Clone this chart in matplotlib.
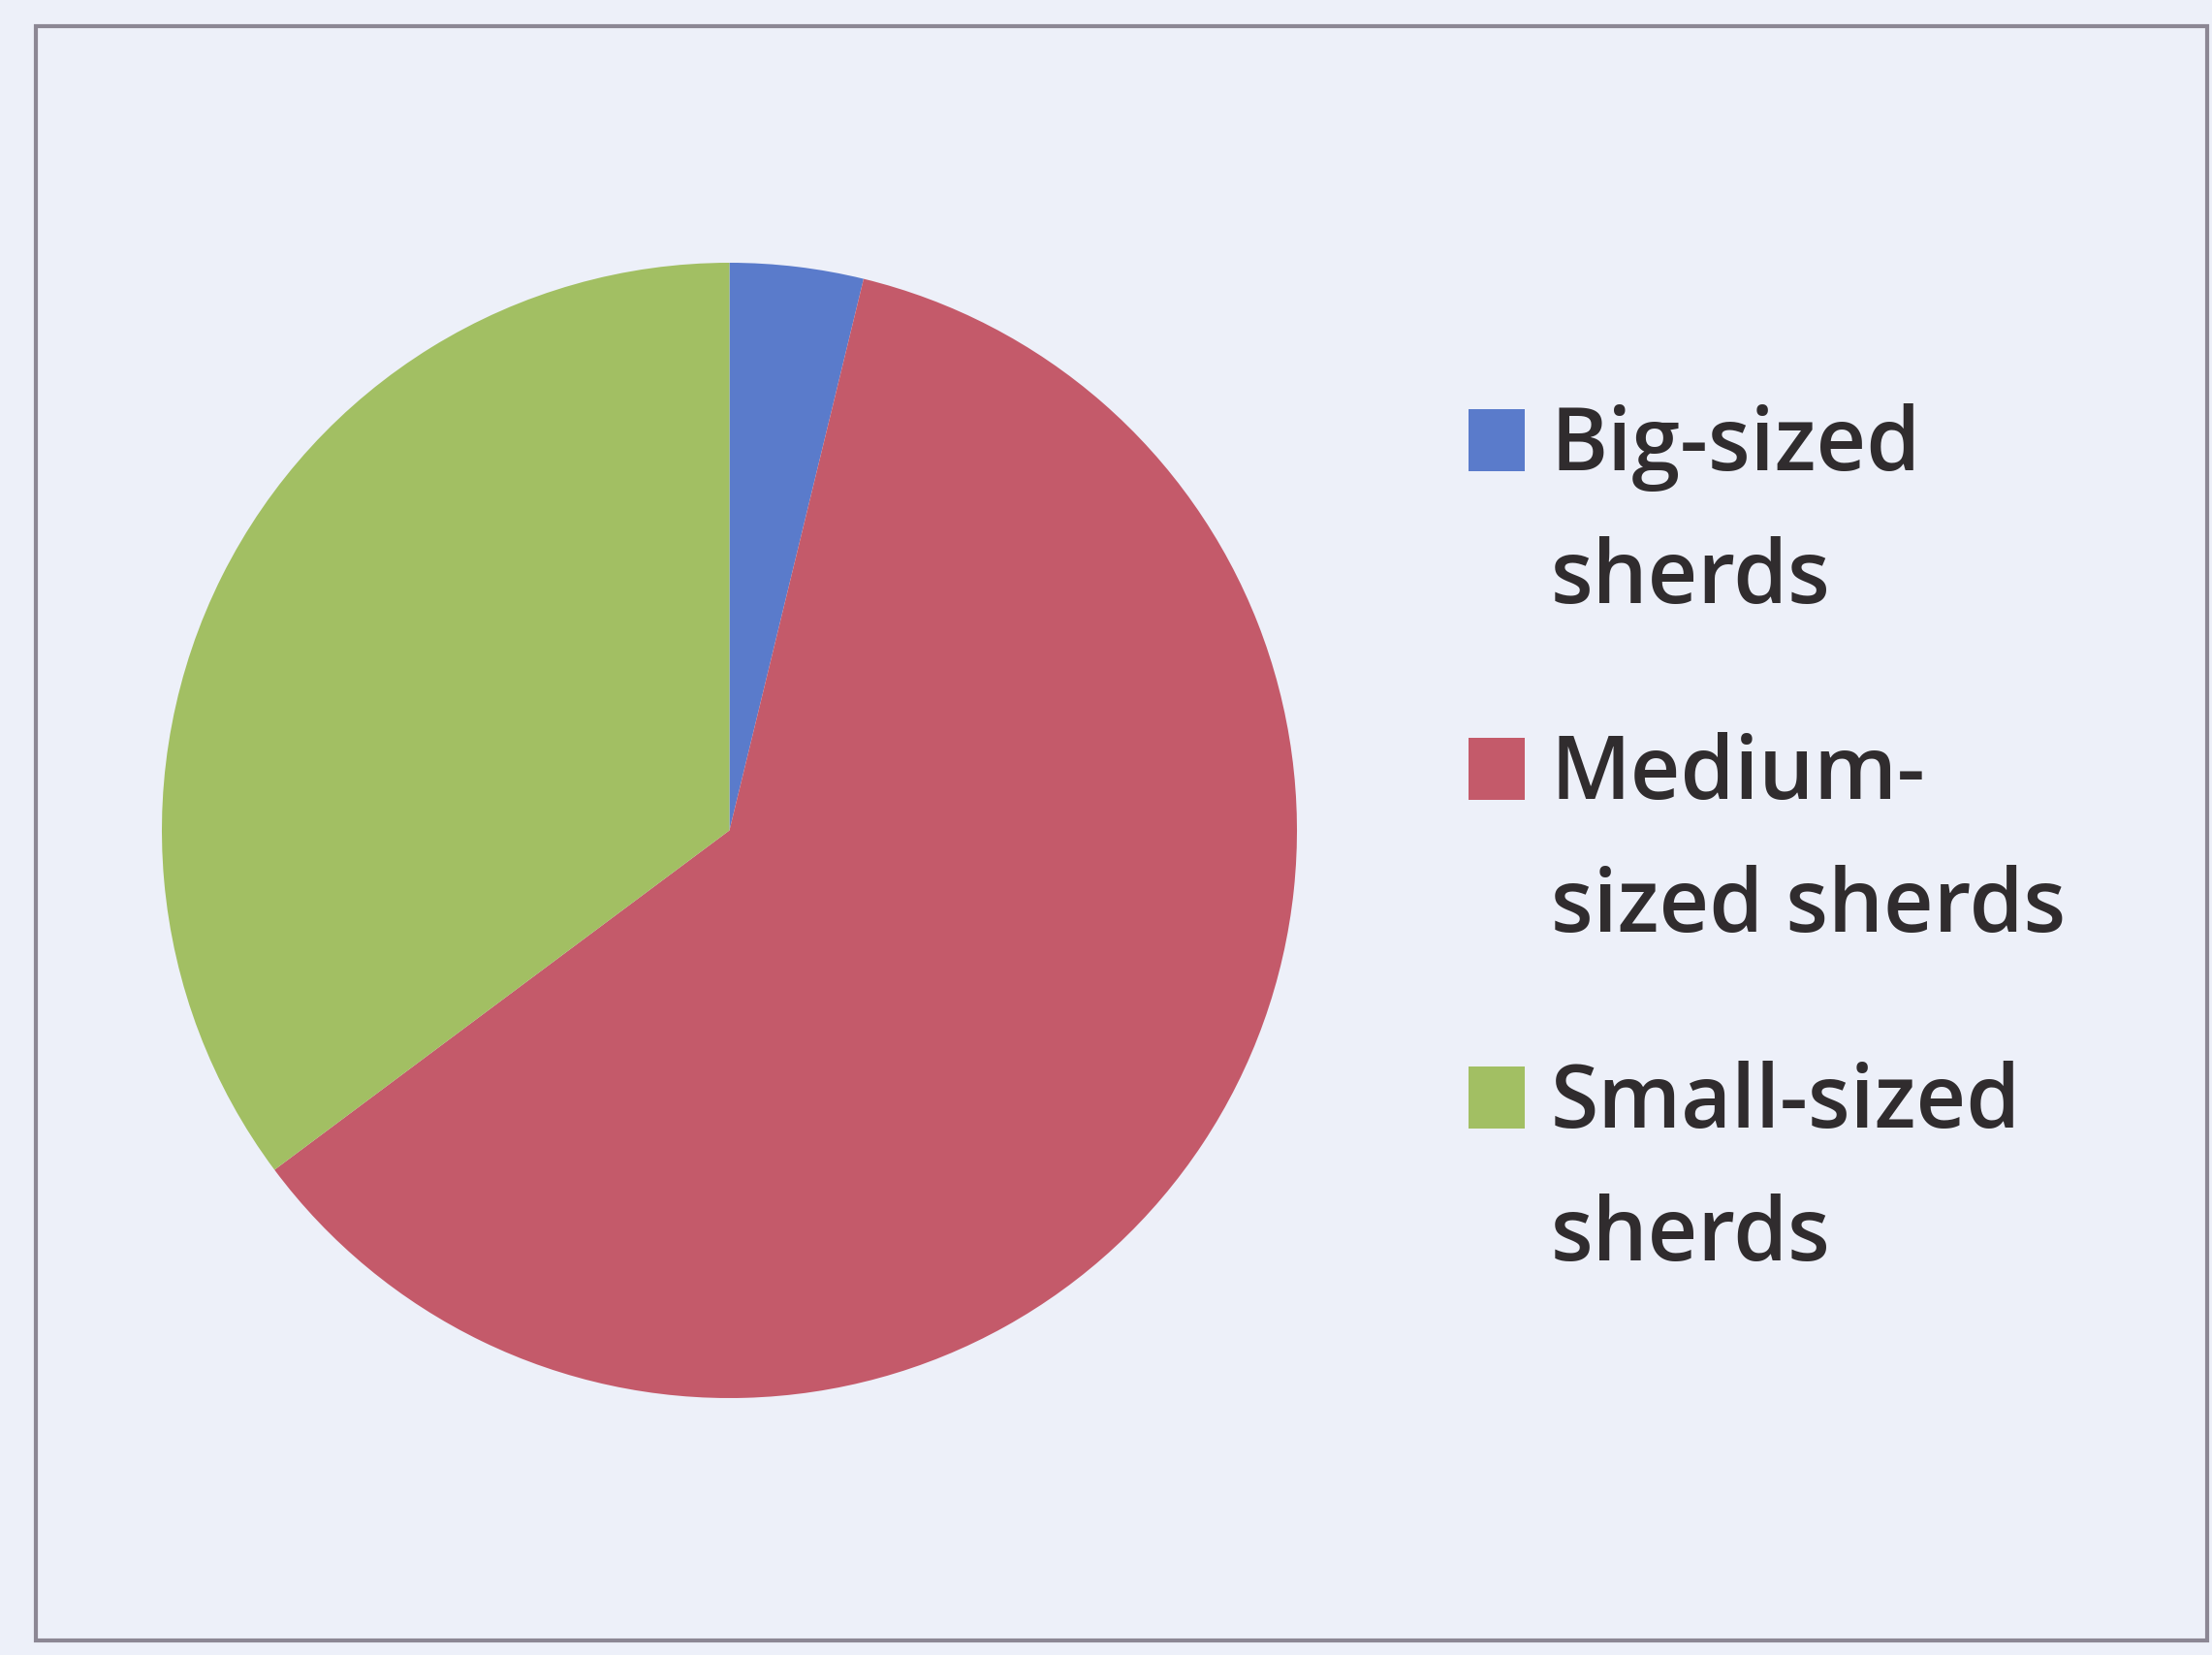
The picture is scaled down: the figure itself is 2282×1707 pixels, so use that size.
import matplotlib.pyplot as plt
from matplotlib.patches import Rectangle

# Share of sherds by size (percent)
labels = ["Big-sized\nsherds", "Medium-\nsized sherds", "Small-sized\nsherds"]
shares = [3.8, 61.0, 35.2]
colors = ["#5a7bcb", "#c45a6a", "#a2bf63"]

W, H = 2282, 1708
bg = "#edf0f9"

fig = plt.figure(figsize=(W / 100, H / 100), dpi=100, facecolor=bg)

# chart frame
fig.patches.append(Rectangle((37 / W, 1 - 1693 / H), (2277 - 37) / W, (1693 - 28) / H,
                             transform=fig.transFigure, fill=False,
                             edgecolor="#8c8794", linewidth=3))

# pie: centre (752, 857) px, radius 585 px
ax = fig.add_axes([167 / W, 1 - 1443 / H, 1171 / W, 1171 / H])
ax.pie(shares, colors=colors, startangle=90, counterclock=False, radius=1,
       wedgeprops=dict(linewidth=0))
ax.set_xlim(-1, 1)
ax.set_ylim(-1, 1)
ax.set_aspect("equal")
ax.axis("off")

# legend drawn by hand so the square sits by the first line
first_base = 485
line_gap = 137
group_gap = 339
for i, (lab, col) in enumerate(zip(labels, colors)):
    base = first_base + i * group_gap
    fig.patches.append(Rectangle((1515 / W, 1 - (base + 2) / H), 58 / W, 64 / H,
                                 transform=fig.transFigure, color=col, linewidth=0))
    for j, line in enumerate(lab.split("\n")):
        fig.text(1600 / W, 1 - (base + j * line_gap) / H, line,
                 fontsize=64.5, family="Open Sans", fontweight="semibold", color="#302c2e",
                 va="baseline", ha="left")

fig.savefig("out.png", dpi=100, facecolor=bg)
